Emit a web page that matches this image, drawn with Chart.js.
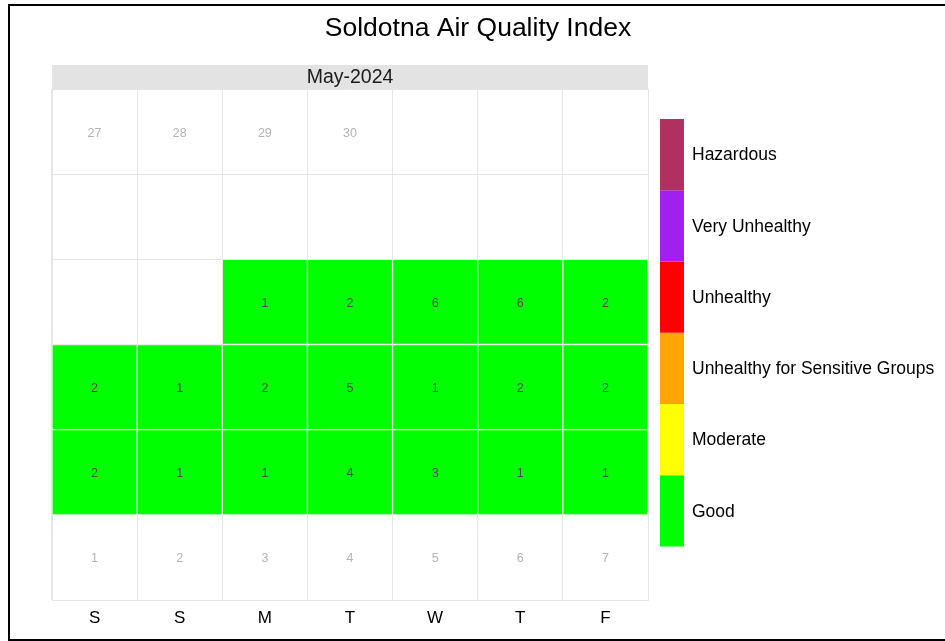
<!DOCTYPE html>
<html>
<head>
<meta charset="utf-8">
<title>Soldotna Air Quality Index</title>
<script src="https://cdn.jsdelivr.net/npm/chart.js@4.4.1/dist/chart.umd.min.js"></script>
<style>
  html, body { margin: 0; padding: 0; background: #ffffff; }
  #wrap { width: 945px; height: 641px; }
</style>
</head>
<body>
<div id="wrap"><canvas id="aqiCalendar" width="945" height="641"></canvas></div>
<script>
// calendar columns, Sunday first
const weekdays = ['S', 'S', 'M', 'T', 'W', 'T', 'F'];
const monthLabel = 'May-2024';

// daily AQI, one array per calendar row (null = no reading)
const week1 = [null, null, 1, 2, 6, 6, 2];
const week2 = [2, 1, 2, 5, 1, 2, 2];
const week3 = [2, 1, 1, 4, 3, 1, 1];

// greyed day numbers in the first and last rows
const topRowDays = ['27', '28', '29', '30', null, null, null];
const bottomRowDays = ['1', '2', '3', '4', '5', '6', '7'];

// AQI categories, low to high
const aqiLevels = ['Good', 'Moderate', 'Unhealthy for Sensitive Groups', 'Unhealthy', 'Very Unhealthy', 'Hazardous'];
const aqiColors = ['#00FF00', '#FFFF00', '#FFA500', '#FF0000', '#A020F0', '#B03060'];
const aqiBreaks = [50, 100, 150, 200, 300];

const FONT = '"Liberation Sans", Arial, Helvetica, sans-serif';
const GRID = '#e5e5e5';

function aqiColor(v) {
    let i = 0;
    while (i < aqiBreaks.length && v > aqiBreaks[i]) i++;
    return aqiColors[i];
}

// each week becomes one floating-bar dataset spanning its row
const weeks = [
    { values: week1, row: 3 },
    { values: week2, row: 2 },
    { values: week3, row: 1 }
];

const datasets = weeks.map(w => ({
    data: w.values.map(v => v === null ? null : [w.row, w.row + 1]),
    aqi: w.values,
    backgroundColor: w.values.map(v => v === null ? 'rgba(0,0,0,0)' : aqiColor(v)),
    borderColor: '#eeeeee',
    borderWidth: 1,
    borderSkipped: false,
    barPercentage: 1,
    categoryPercentage: 1,
    grouped: false
}));

const calendarDecor = {
    id: 'calendarDecor',
    beforeDraw(chart) {
        const { ctx, chartArea } = chart;
        ctx.save();
        // month strip
        ctx.fillStyle = '#e3e3e3';
        ctx.fillRect(chartArea.left, 65, chartArea.right - chartArea.left, chartArea.top - 65);
        ctx.fillStyle = '#1a1a1a';
        ctx.font = '19.5px ' + FONT;
        ctx.textAlign = 'center';
        ctx.textBaseline = 'middle';
        ctx.fillText(monthLabel, (chartArea.left + chartArea.right) / 2, 77.5);
        // title
        ctx.fillStyle = '#000000';
        ctx.font = '26.5px ' + FONT;
        ctx.fillText('Soldotna Air Quality Index', 478, 29);
        ctx.restore();
    },
    afterDraw(chart) {
        const { ctx } = chart;
        const x = chart.scales.x, y = chart.scales.y;
        ctx.save();
        ctx.textAlign = 'center';
        ctx.textBaseline = 'middle';
        ctx.font = '12.5px ' + FONT;

        // greyed day numbers
        ctx.fillStyle = '#b3b3b3';
        topRowDays.forEach((d, i) => {
            if (d) ctx.fillText(d, x.getPixelForValue(i), y.getPixelForValue(5.5) + 1.5);
        });
        bottomRowDays.forEach((d, i) => {
            if (d) ctx.fillText(d, x.getPixelForValue(i), y.getPixelForValue(0.5) + 1.5);
        });

        // AQI values inside the tiles
        ctx.fillStyle = '#4d4d4d';
        chart.data.datasets.forEach((ds, di) => {
            const meta = chart.getDatasetMeta(di);
            meta.data.forEach((bar, i) => {
                if (ds.aqi[i] === null) return;
                ctx.fillText(String(ds.aqi[i]), bar.x, (bar.y + bar.base) / 2 + 1.5);
            });
        });

        // colour key
        const kx = 660, kw = 24, kTop = 119, kBottom = 546.5;
        const segH = (kBottom - kTop) / aqiLevels.length;
        ctx.font = '17.5px ' + FONT;
        ctx.textAlign = 'left';
        aqiLevels.forEach((name, i) => {
            const top = kBottom - (i + 1) * segH;
            ctx.fillStyle = aqiColors[i];
            ctx.fillRect(kx, top, kw, segH);
            ctx.fillStyle = '#000000';
            ctx.fillText(name, 692, top + segH / 2 + 1);
        });

        // outer frame
        ctx.strokeStyle = '#000000';
        ctx.lineWidth = 2;
        ctx.strokeRect(9, 5, 960, 635);
        ctx.restore();
    }
};

new Chart(document.getElementById('aqiCalendar'), {
    type: 'bar',
    data: { labels: weekdays, datasets: datasets },
    options: {
        responsive: false,
        animation: false,
        devicePixelRatio: 1,
        layout: { padding: { top: 89, left: 52, right: 297, bottom: 0 } },
        plugins: {
            legend: { display: false },
            tooltip: { enabled: false },
            title: { display: false }
        },
        scales: {
            x: {
                type: 'category',
                offset: true,
                grid: { color: GRID, lineWidth: 1, offset: true, drawTicks: false },
                border: { display: true, color: GRID },
                ticks: { color: '#000000', font: { family: FONT, size: 17 }, padding: 8 },
                afterFit(scale) { scale.height = 41; }
            },
            y: {
                type: 'linear',
                min: 0,
                max: 6,
                grid: { color: GRID, lineWidth: 1, drawTicks: false },
                border: { display: true, color: GRID },
                ticks: { display: false, stepSize: 1 },
                afterFit(scale) { scale.width = 0; }
            }
        }
    },
    plugins: [calendarDecor]
});
</script>
</body>
</html>
